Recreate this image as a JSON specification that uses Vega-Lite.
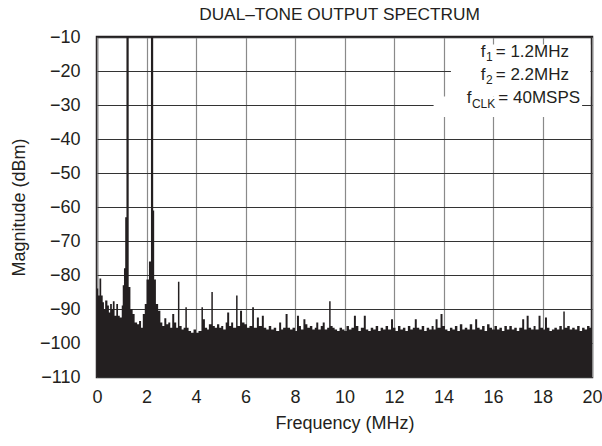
{
  "$schema": "https://vega.github.io/schema/vega-lite/v6.json",
  "width": 495,
  "height": 340,
  "autosize": {"type": "none"},
  "padding": {"left": 97, "top": 37, "right": 10, "bottom": 69},
  "title": {"text": "DUAL–TONE OUTPUT SPECTRUM", "fontSize": 17.3, "fontWeight": "normal", "font": "Liberation Sans", "color": "#231f20", "offset": 5, "dx": -5},
  "config": {
    "font": "Liberation Sans",
    "view": {"stroke": "#231f20", "strokeWidth": 2.5},
    "axis": {"grid": true, "domain": false, "ticks": false, "tickSize": 0, "labelFontSize": 18, "labelColor": "#231f20", "labelFlush": false, "labelOverlap": false, "titleFontSize": 18, "titleFontWeight": "normal", "titleColor": "#231f20", "tickCount": 30, "format": "d"}
  },
  "datasets": {
    "spec": [
      {"f": 0.00, "db": -84}, {"f": 0.05, "db": -86}, {"f": 0.10, "db": -81}, {"f": 0.17, "db": -86},
      {"f": 0.23, "db": -88}, {"f": 0.28, "db": -90}, {"f": 0.33, "db": -87.5}, {"f": 0.42, "db": -89},
      {"f": 0.48, "db": -91}, {"f": 0.53, "db": -88.5}, {"f": 0.60, "db": -90}, {"f": 0.64, "db": -87.7},
      {"f": 0.71, "db": -92}, {"f": 0.78, "db": -88.5}, {"f": 0.85, "db": -92}, {"f": 0.92, "db": -92.5},
      {"f": 1.00, "db": -89}, {"f": 1.04, "db": -83}, {"f": 1.09, "db": -78}, {"f": 1.14, "db": -63},
      {"f": 1.19, "db": -10}, {"f": 1.28, "db": -83.5}, {"f": 1.35, "db": -90}, {"f": 1.44, "db": -91.5},
      {"f": 1.52, "db": -94}, {"f": 1.62, "db": -94.5}, {"f": 1.70, "db": -93.5}, {"f": 1.78, "db": -95.5},
      {"f": 1.85, "db": -91.5}, {"f": 1.93, "db": -88.5}, {"f": 2.00, "db": -81.3}, {"f": 2.10, "db": -76},
      {"f": 2.18, "db": -10}, {"f": 2.27, "db": -61}, {"f": 2.31, "db": -81.3}, {"f": 2.38, "db": -88.5},
      {"f": 2.47, "db": -90.5}, {"f": 2.56, "db": -94}, {"f": 2.64, "db": -95}, {"f": 2.72, "db": -92.7},
      {"f": 2.80, "db": -94.5}, {"f": 2.88, "db": -94}, {"f": 2.96, "db": -95.5}, {"f": 3.04, "db": -91.5},
      {"f": 3.12, "db": -94}, {"f": 3.20, "db": -95.5}, {"f": 3.27, "db": -82}, {"f": 3.33, "db": -95},
      {"f": 3.42, "db": -96}, {"f": 3.50, "db": -95.5}, {"f": 3.57, "db": -89.5}, {"f": 3.63, "db": -95.5},
      {"f": 3.70, "db": -96.5}, {"f": 3.80, "db": -97}, {"f": 3.90, "db": -96}, {"f": 4.00, "db": -97},
      {"f": 4.10, "db": -96.5}, {"f": 4.22, "db": -89.5}, {"f": 4.28, "db": -93}, {"f": 4.36, "db": -95.5},
      {"f": 4.45, "db": -96}, {"f": 4.52, "db": -94.5}, {"f": 4.62, "db": -85}, {"f": 4.68, "db": -95},
      {"f": 4.76, "db": -95.5}, {"f": 4.85, "db": -94.5}, {"f": 4.94, "db": -95.5}, {"f": 5.02, "db": -95},
      {"f": 5.10, "db": -96}, {"f": 5.20, "db": -94}, {"f": 5.26, "db": -91}, {"f": 5.34, "db": -95},
      {"f": 5.42, "db": -94}, {"f": 5.50, "db": -95.5}, {"f": 5.62, "db": -86}, {"f": 5.68, "db": -95},
      {"f": 5.78, "db": -90.5}, {"f": 5.86, "db": -94}, {"f": 5.96, "db": -94.5}, {"f": 6.06, "db": -95.5},
      {"f": 6.16, "db": -95}, {"f": 6.27, "db": -89.5}, {"f": 6.34, "db": -95.5}, {"f": 6.46, "db": -92.5},
      {"f": 6.54, "db": -95}, {"f": 6.66, "db": -92}, {"f": 6.74, "db": -95.5}, {"f": 6.84, "db": -96},
      {"f": 6.94, "db": -95}, {"f": 7.04, "db": -96}, {"f": 7.14, "db": -95.5}, {"f": 7.24, "db": -96.5},
      {"f": 7.36, "db": -94}, {"f": 7.44, "db": -96}, {"f": 7.52, "db": -95.5}, {"f": 7.62, "db": -91.5},
      {"f": 7.70, "db": -95.5}, {"f": 7.80, "db": -96}, {"f": 7.90, "db": -95.5}, {"f": 8.00, "db": -96.5},
      {"f": 8.08, "db": -92}, {"f": 8.16, "db": -95}, {"f": 8.24, "db": -96}, {"f": 8.34, "db": -93},
      {"f": 8.42, "db": -94.5}, {"f": 8.50, "db": -95.5}, {"f": 8.60, "db": -95}, {"f": 8.70, "db": -96},
      {"f": 8.80, "db": -95.5}, {"f": 8.86, "db": -94}, {"f": 8.94, "db": -96}, {"f": 9.04, "db": -95},
      {"f": 9.12, "db": -94}, {"f": 9.20, "db": -96}, {"f": 9.30, "db": -95.5}, {"f": 9.38, "db": -87.7},
      {"f": 9.44, "db": -95}, {"f": 9.52, "db": -95.5}, {"f": 9.60, "db": -96}, {"f": 9.70, "db": -96.5},
      {"f": 9.80, "db": -95.5}, {"f": 9.90, "db": -96}, {"f": 10.00, "db": -96.5}, {"f": 10.08, "db": -95},
      {"f": 10.18, "db": -96}, {"f": 10.28, "db": -95.5}, {"f": 10.38, "db": -92}, {"f": 10.46, "db": -95},
      {"f": 10.56, "db": -96.5}, {"f": 10.66, "db": -95.5}, {"f": 10.78, "db": -92}, {"f": 10.86, "db": -96},
      {"f": 10.96, "db": -96.5}, {"f": 11.06, "db": -95.5}, {"f": 11.16, "db": -96}, {"f": 11.26, "db": -95},
      {"f": 11.36, "db": -96.5}, {"f": 11.46, "db": -95.5}, {"f": 11.56, "db": -96}, {"f": 11.66, "db": -95},
      {"f": 11.76, "db": -96}, {"f": 11.88, "db": -93}, {"f": 11.96, "db": -95.5}, {"f": 12.06, "db": -96.5},
      {"f": 12.16, "db": -95}, {"f": 12.26, "db": -96}, {"f": 12.36, "db": -95.5}, {"f": 12.46, "db": -96.5},
      {"f": 12.56, "db": -95}, {"f": 12.66, "db": -96}, {"f": 12.76, "db": -95.5}, {"f": 12.84, "db": -93},
      {"f": 12.92, "db": -95.5}, {"f": 13.02, "db": -96}, {"f": 13.12, "db": -95}, {"f": 13.22, "db": -96.5},
      {"f": 13.32, "db": -95.5}, {"f": 13.42, "db": -96}, {"f": 13.52, "db": -95}, {"f": 13.60, "db": -96},
      {"f": 13.68, "db": -93}, {"f": 13.76, "db": -95.5}, {"f": 13.88, "db": -91.5}, {"f": 13.96, "db": -95},
      {"f": 14.06, "db": -96}, {"f": 14.16, "db": -96.5}, {"f": 14.26, "db": -95.5}, {"f": 14.36, "db": -96},
      {"f": 14.46, "db": -95}, {"f": 14.56, "db": -96.5}, {"f": 14.66, "db": -94.5}, {"f": 14.76, "db": -96},
      {"f": 14.86, "db": -95.5}, {"f": 14.96, "db": -96}, {"f": 15.06, "db": -94.5}, {"f": 15.16, "db": -96},
      {"f": 15.28, "db": -93}, {"f": 15.36, "db": -95.5}, {"f": 15.46, "db": -96}, {"f": 15.56, "db": -95},
      {"f": 15.66, "db": -96.5}, {"f": 15.76, "db": -94.5}, {"f": 15.86, "db": -95.5}, {"f": 15.96, "db": -96},
      {"f": 16.06, "db": -95}, {"f": 16.16, "db": -96}, {"f": 16.26, "db": -95.5}, {"f": 16.36, "db": -96.5},
      {"f": 16.46, "db": -95}, {"f": 16.56, "db": -96}, {"f": 16.66, "db": -95}, {"f": 16.76, "db": -96},
      {"f": 16.86, "db": -95.5}, {"f": 16.96, "db": -96.5}, {"f": 17.06, "db": -95.5}, {"f": 17.18, "db": -93},
      {"f": 17.26, "db": -96}, {"f": 17.36, "db": -92}, {"f": 17.44, "db": -95.5}, {"f": 17.54, "db": -96},
      {"f": 17.64, "db": -95}, {"f": 17.72, "db": -96}, {"f": 17.84, "db": -92}, {"f": 17.92, "db": -95.5},
      {"f": 18.02, "db": -96}, {"f": 18.10, "db": -92.5}, {"f": 18.18, "db": -95.5}, {"f": 18.28, "db": -96.5},
      {"f": 18.38, "db": -96}, {"f": 18.48, "db": -95.5}, {"f": 18.58, "db": -96}, {"f": 18.68, "db": -95},
      {"f": 18.78, "db": -96}, {"f": 18.84, "db": -90.7}, {"f": 18.90, "db": -95.5}, {"f": 19.00, "db": -95},
      {"f": 19.10, "db": -96}, {"f": 19.20, "db": -95.5}, {"f": 19.30, "db": -96}, {"f": 19.40, "db": -95},
      {"f": 19.50, "db": -96.5}, {"f": 19.60, "db": -95.5}, {"f": 19.70, "db": -96}, {"f": 19.80, "db": -95},
      {"f": 19.90, "db": -95.5}, {"f": 20.00, "db": -96}
    ]
  },
  "layer": [
    {
      "data": {"name": "spec"},
      "mark": {"type": "area", "interpolate": "step-after", "color": "#231f20", "clip": true},
      "encoding": {
        "x": {"field": "f", "type": "quantitative", "scale": {"domain": [0, 20], "nice": false},
              "axis": {"title": "Frequency (MHz)", "values": [0, 2, 4, 6, 8, 10, 12, 14, 16, 18, 20], "tickCount": 30, "format": "d", "gridColor": "#8a8a8a", "gridWidth": 1.2, "labelPadding": 11, "titlePadding": 8}},
        "y": {"field": "db", "type": "quantitative", "scale": {"domain": [-110, -10], "nice": false, "zero": false},
              "axis": {"title": "Magnitude (dBm)", "values": [-110, -100, -90, -80, -70, -60, -50, -40, -30, -20, -10], "tickCount": 30, "format": "d", "gridColor": "#333333", "gridWidth": 1.2, "labelPadding": 17, "titlePadding": 11}},
        "y2": {"datum": -110}
      }
    },
    {
      "data": {"values": [{}]},
      "mark": {"type": "rect", "color": "white"},
      "encoding": {"x": {"datum": 14.3}, "x2": {"datum": 19.93}, "y": {"datum": -12.2}, "y2": {"datum": -27.5}}
    },
    {
      "data": {"values": [{}]},
      "mark": {"type": "rect", "color": "white"},
      "encoding": {"x": {"datum": 13.6}, "x2": {"datum": 19.6}, "y": {"datum": -27.5}, "y2": {"datum": -33.5}}
    },
    {
      "data": {"values": [{}]},
      "mark": {"type": "text", "text": "f", "align": "right", "baseline": "alphabetic", "fontSize": 17, "color": "#231f20"},
      "encoding": {"x": {"datum": 15.70}, "y": {"datum": -15.75}}
    },
    {
      "data": {"values": [{}]},
      "mark": {"type": "text", "text": "1", "align": "right", "baseline": "alphabetic", "fontSize": 12, "color": "#231f20"},
      "encoding": {"x": {"datum": 15.99}, "y": {"datum": -17.0}}
    },
    {
      "data": {"values": [{}]},
      "mark": {"type": "text", "text": "= 1.2MHz", "align": "right", "baseline": "alphabetic", "fontSize": 17, "color": "#231f20"},
      "encoding": {"x": {"datum": 19.07}, "y": {"datum": -15.75}}
    },
    {
      "data": {"values": [{}]},
      "mark": {"type": "text", "text": "f", "align": "right", "baseline": "alphabetic", "fontSize": 17, "color": "#231f20"},
      "encoding": {"x": {"datum": 15.70}, "y": {"datum": -22.6}}
    },
    {
      "data": {"values": [{}]},
      "mark": {"type": "text", "text": "2", "align": "right", "baseline": "alphabetic", "fontSize": 12, "color": "#231f20"},
      "encoding": {"x": {"datum": 15.99}, "y": {"datum": -23.85}}
    },
    {
      "data": {"values": [{}]},
      "mark": {"type": "text", "text": "= 2.2MHz", "align": "right", "baseline": "alphabetic", "fontSize": 17, "color": "#231f20"},
      "encoding": {"x": {"datum": 19.07}, "y": {"datum": -22.6}}
    },
    {
      "data": {"values": [{}]},
      "mark": {"type": "text", "text": "f", "align": "right", "baseline": "alphabetic", "fontSize": 17, "color": "#231f20"},
      "encoding": {"x": {"datum": 15.13}, "y": {"datum": -29.5}}
    },
    {
      "data": {"values": [{}]},
      "mark": {"type": "text", "text": "CLK", "align": "right", "baseline": "alphabetic", "fontSize": 12, "color": "#231f20"},
      "encoding": {"x": {"datum": 16.09}, "y": {"datum": -30.75}}
    },
    {
      "data": {"values": [{}]},
      "mark": {"type": "text", "text": "= 40MSPS", "align": "right", "baseline": "alphabetic", "fontSize": 17, "color": "#231f20"},
      "encoding": {"x": {"datum": 19.52}, "y": {"datum": -29.5}}
    }
  ]
}
